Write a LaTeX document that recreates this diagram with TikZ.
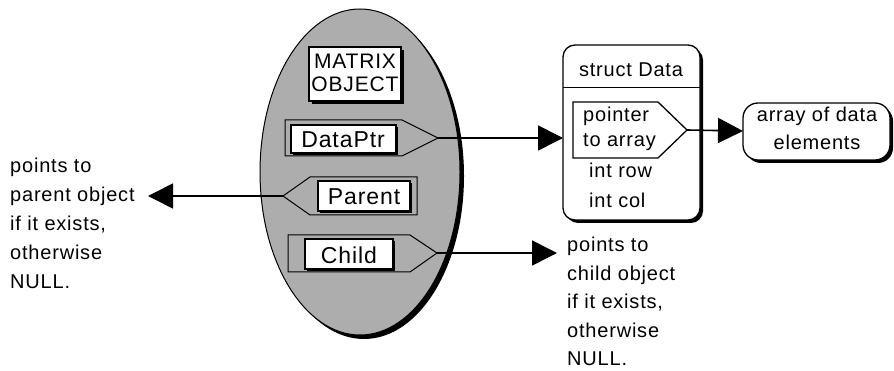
\documentclass[tikz,border=0pt]{standalone}
\usepackage{fontspec}
\setmainfont{Liberation Sans}[LetterSpace=4]
\usetikzlibrary{arrows.meta}
\begin{document}
\begin{tikzpicture}[x=1pt,y=-1pt,
  txt/.style={inner sep=0pt, font=\fontsize{20}{29}\selectfont},
  fld/.style={inner sep=0pt, font=\fontsize{23}{28}\selectfont},
  box/.style={draw=black, line width=1.3pt, fill=white},
  shadowfill/.style={fill=black},
  outline/.style={draw=black, line width=1pt, line join=miter},
  conn/.style={line width=1.6pt, -{Triangle[length=25pt,width=25pt]}},
  dotfill/.style={fill=black!32}]
\useasboundingbox (0,0) rectangle (894,371);

% ---------- matrix object ellipse ----------
\fill[black] (364,176) ellipse [x radius=100pt, y radius=163pt];
\draw[dotfill, line width=1pt] (360,172) ellipse [x radius=100pt, y radius=163pt];

% MATRIX OBJECT box
\fill[shadowfill] (312,50) rectangle (404,104);
\draw[box] (309,47) rectangle (401,101);
\node[inner sep=0pt, align=center, font=\fontsize{21}{23}\selectfont] (mo) at (355,73) {MATRIX\\OBJECT};

% DataPtr field
\draw[outline] (285,120) -- (402,120) -- (438,138) -- (402,156) -- (285,156) -- cycle;
\coordinate (dptip) at (438,138);
\fill[shadowfill] (293,127) rectangle (398,155);
\draw[box] (291,125) rectangle (396,153);
\node[fld] (dp) at (343,139.5) {DataPtr};

% Parent field
\draw[outline] (283,196) -- (310,177) -- (417,177) -- (417,215) -- (310,215) -- cycle;
\coordinate (partip) at (283,196);
\fill[shadowfill] (320,183) rectangle (412,213);
\draw[box] (318,181) rectangle (410,211);
\node[fld] (par) at (364,197) {Parent};

% Child field
\draw[outline] (288,235) -- (410,235) -- (437,253) -- (410,272) -- (288,272) -- cycle;
\coordinate (chtip) at (437,253);
\fill[shadowfill] (307,241) rectangle (395,271);
\draw[box] (305,239) rectangle (393,269);
\node[fld] (ch) at (349,255) {Child};

% ---------- struct Data ----------
\fill[shadowfill, rounded corners=12pt] (566,48) rectangle (703,223);
\draw[box, rounded corners=12pt] (563,45) rectangle (700,220);
\draw[line width=1pt] (563,88) -- (700,88);
\node[txt, anchor=base] (sd) at (631,77) {struct Data};
\coordinate (sdleft) at (563,138);
\draw[line width=1.3pt, line join=miter] (573,102) -- (658,102) -- (687,130) -- (658,158) -- (573,158) -- cycle;
\coordinate (ptrtip) at (687,130);
\node[txt, anchor=base west] (p1) at (583,122) {pointer};
\node[txt, anchor=base west] (p2) at (583,147) {to array};
\node[txt, anchor=base west] (ir) at (589,178) {int row};
\node[txt, anchor=base west] (ic) at (589,208) {int col};

% ---------- array box ----------
\fill[shadowfill, rounded corners=15pt] (746,106) rectangle (893,163);
\draw[box, rounded corners=15pt] (743,103) rectangle (890,160);
\coordinate (arrleft) at (743,131);
\node[txt, anchor=base] (a1) at (817,122) {array of data};
\node[txt, anchor=base] (a2) at (817,150) {elements};

% ---------- side texts ----------
\node[txt, anchor=base west] (lt) at (10,173)
  {\parbox[t]{140pt}{\fontsize{20}{29}\selectfont\raggedright points to\\parent object\\if it exists,\\otherwise\\NULL.}};
\coordinate (ltarrow) at (148,196);
\node[txt, anchor=base west] (rt) at (567,252)
  {\parbox[t]{140pt}{\fontsize{20}{28.5}\selectfont\raggedright points to\\child object\\if it exists,\\otherwise\\NULL.}};
\coordinate (rtarrow) at (557,253);

% ---------- connectors ----------
\draw[conn] (dptip) -- (sdleft);
\draw[conn] (partip) -- (ltarrow);
\draw[conn] (chtip) -- (rtarrow);
\draw[conn] (ptrtip) -- (arrleft);
\end{tikzpicture}
\end{document}
